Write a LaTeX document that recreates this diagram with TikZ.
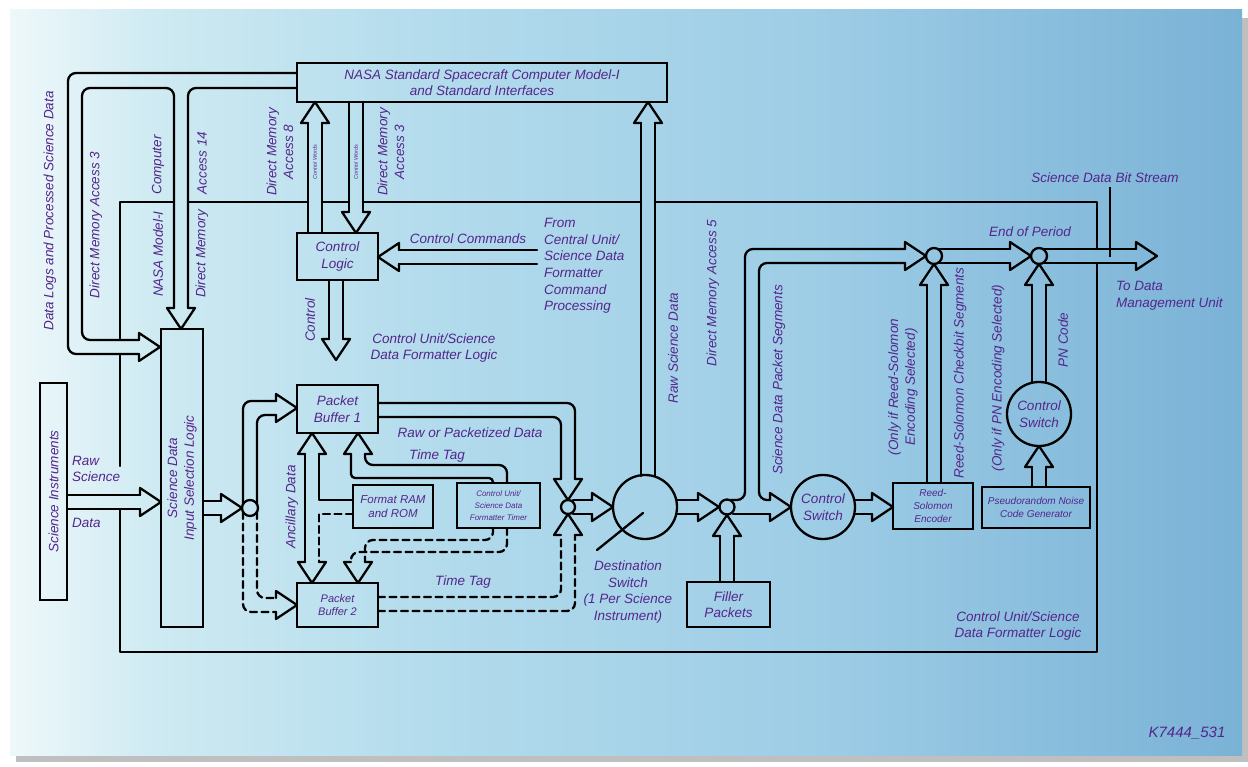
\documentclass[tikz,border=0pt]{standalone}
\usepackage{fontspec}
\setmainfont{Liberation Sans}
\definecolor{txt}{RGB}{84,38,140}
\definecolor{bgA}{RGB}{238,248,250}
\definecolor{bgB}{RGB}{206,234,242}
\definecolor{bgC}{RGB}{178,219,236}
\definecolor{bgD}{RGB}{158,205,230}
\definecolor{bgE}{RGB}{122,178,214}
\pgfdeclarehorizontalshading{panelshade}{100bp}{color(0bp)=(bgA); color(25bp)=(bgA); color(31bp)=(bgB); color(42.5bp)=(bgC); color(57.5bp)=(bgD); color(75bp)=(bgE); color(100bp)=(bgE)}
\def\HL{21}\def\HW{14}\def\SW{7}
\newcommand\ahR[3][]{\draw[ln,#1] ({#2-\HL},{#3-\SW}) -- ({#2-\HL},{#3-\HW}) -- (#2,#3) -- ({#2-\HL},{#3+\HW}) -- ({#2-\HL},{#3+\SW});}
\newcommand\ahL[3][]{\draw[ln,#1] ({#2+\HL},{#3-\SW}) -- ({#2+\HL},{#3-\HW}) -- (#2,#3) -- ({#2+\HL},{#3+\HW}) -- ({#2+\HL},{#3+\SW});}
\newcommand\ahU[3][]{\draw[ln,#1] ({#2-\SW},{#3+\HL}) -- ({#2-\HW},{#3+\HL}) -- (#2,#3) -- ({#2+\HW},{#3+\HL}) -- ({#2+\SW},{#3+\HL});}
\newcommand\ahD[3][]{\draw[ln,#1] ({#2-\SW},{#3-\HL}) -- ({#2-\HW},{#3-\HL}) -- (#2,#3) -- ({#2+\HW},{#3-\HL}) -- ({#2+\SW},{#3-\HL});}
\begin{document}
\begin{tikzpicture}[x=1pt,y=-1pt,
 ln/.style={line width=2.3pt, line cap=round, line join=round},
 rc/.style={rounded corners=8pt},
 dsh/.style={dash pattern=on 7pt off 4.5pt},
 lab/.style={text=txt, font=\fontsize{13.5}{16.7}\selectfont\itshape, inner sep=0pt, align=center},
 tinylab/.style={text=txt, font=\fontsize{5.5}{6.5}\selectfont\itshape, inner sep=0pt},
 box/.style={draw, line width=2.3pt, inner sep=0pt, align=center, text=txt, font=\fontsize{13.5}{16.5}\selectfont\itshape},
 rnd/.style={draw, line width=2.3pt, circle, inner sep=0pt, align=center, text=txt, font=\fontsize{13.5}{16.5}\selectfont\itshape}]

\useasboundingbox (0,0) rectangle (1248,767);
\fill[white] (0,0) rectangle (1248,767);
\fill[black!25] (16,18) rectangle (1248,762);
\shade[shading=panelshade] (10,10) rectangle (1242,755);

% frame of the formatter logic
\draw[ln] (174,202) -- (120,202) -- (120,340);
\draw[ln] (120,354) -- (120,466);
\draw[ln] (120,509) -- (120,652) -- (1097,652) -- (1097,263);
\draw[ln] (1097,249) -- (1097,202) -- (655,202);
\draw[ln] (641,202) -- (363,202);
\draw[ln] (349,202) -- (322,202);
\draw[ln] (308,202) -- (188,202);

% boxes
\node[box, minimum width=370pt, minimum height=39pt] (nasa) at (482,82.5) {NASA Standard Spacecraft Computer Model-I\\and Standard Interfaces};
\node[box, minimum width=81pt, minimum height=47pt] (ctl) at (337.5,256.5) {Control\\Logic};
\node[box, minimum width=42pt, minimum height=298pt] (isl) at (182,478) {};
\node[lab, rotate=90] (isltxt) at (isl.center) {Science Data\\Input Selection Logic};
\node[box, minimum width=27pt, minimum height=217pt] (si) at (53.5,491.5) {};
\node[lab, rotate=90] (sitxt) at (si.center) {Science Instruments};
\node[box, minimum width=81pt, minimum height=48pt] (pb1) at (337.5,409) {Packet\\Buffer 1};
\node[box, minimum width=81pt, minimum height=44pt, font=\fontsize{11}{13}\selectfont\itshape] (pb2) at (337.5,605) {Packet\\Buffer 2};
\node[box, minimum width=80pt, minimum height=43pt, font=\fontsize{11.5}{14}\selectfont\itshape] (fram) at (393,506.5) {Format RAM\\and ROM};
\node[box, minimum width=83pt, minimum height=45pt, font=\fontsize{8}{12}\selectfont\itshape] (tmr) at (498.5,505.5) {Control Unit/\\Science Data\\Formatter Timer};
\node[box, minimum width=83pt, minimum height=45pt] (fill) at (728.5,604.5) {Filler\\Packets};
\node[box, minimum width=80pt, minimum height=46pt, font=\fontsize{10}{13}\selectfont\itshape] (rs) at (933,506) {Reed-\\Solomon\\Encoder};
\node[box, minimum width=108pt, minimum height=41pt, font=\fontsize{10}{12.5}\selectfont\itshape] (pn) at (1036,507.5) {Pseudorandom Noise\\Code Generator};

% circles
\node[rnd, minimum size=16pt] (c1) at (250,508) {};
\node[rnd, minimum size=14pt] (c2) at (568,507) {};
\node[rnd, minimum size=64pt] (ds) at (645,507) {};
\node[rnd, minimum size=15pt] (c3) at (727,507) {};
\node[rnd, minimum size=64pt] (cs1) at (823,507) {Control\\Switch};
\node[rnd, minimum size=16pt] (c4) at (934,256) {};
\node[rnd, minimum size=16pt] (c6) at (1039,256) {};
\node[rnd, minimum size=64pt] (cs2) at (1039,414) {Control\\Switch};
\coordinate (dsl) at (597,550);
\coordinate (dsr) at (643,513);
\draw[ln] (dsl) -- (dsr);

% 1 data logs / DMA 14
\draw[ln,rc] (nasa.west |- 0,73) -- (68,73) -- (68,354) -- (139,354);
\draw[ln,rc] (139,340) -- (82,340) -- (82,88) -- (174,88) -- (174,308);
\draw[ln,rc] (188,308) -- (188,88) -- (nasa.west |- 0,88);
\ahR{160}{347}
\ahD{181}{329}
% 2 DMA8 up
\draw[ln] (308,233) -- (308,123);
\draw[ln] (322,233) -- (322,123);
\ahU{315}{102}
% 3 DMA3 down
\draw[ln] (349,102) -- (349,212);
\draw[ln] (363,102) -- (363,212);
\ahD{356}{233}
% 4 control commands
\draw[ln] (399,250) -- (537,250);
\draw[ln] (399,264) -- (537,264);
\ahL{378}{257}
% 5 control down
\draw[ln] (329,280) -- (329,339);
\draw[ln] (343,280) -- (343,339);
\ahD{336}{360}
% 6 raw science
\draw[ln] (67,495) -- (140,495);
\draw[ln] (67,509) -- (140,509);
\ahR{161}{502}
% 7 isl -> c1
\draw[ln] (203,501) -- (221,501);
\draw[ln] (203,515) -- (221,515);
\ahR{242}{508}
% 8 c1 -> pb1
\draw[ln,rc] (243,504) -- (243,401) -- (276,401);
\draw[ln,rc] (257,504) -- (257,415) -- (276,415);
\ahR{297}{408}
% 9 c1 -> pb2
\draw[ln,rc,dsh] (243,512) -- (243,612) -- (276,612);
\draw[ln,rc,dsh] (257,512) -- (257,598) -- (276,598);
\ahR{297}{605}
% 10 ancillary
\draw[ln] (305,454) -- (305,562);
\draw[ln] (319,454) -- (319,500) -- (353,500);
\draw[ln,dsh] (353,514) -- (319,514) -- (319,562);
\ahU{312}{433}
\ahD{312}{583}
% 11 timer -> pb1
\draw[ln,rc] (507,483) -- (507,465) -- (365,465) -- (365,454);
\draw[ln,rounded corners=4pt] (493,483) -- (493,478) -- (351,478) -- (351,454);
\ahU{358}{433}
% 12 timer -> pb2
\draw[ln,rc,dsh] (507,528) -- (507,552) -- (351,552) -- (351,562);
\draw[ln,rc,dsh] (493,528) -- (493,540) -- (365,540) -- (365,562);
\ahD{358}{583}
% 13 pb1 -> c2
\draw[ln,rc] (378,403) -- (575,403) -- (575,479);
\draw[ln,rc] (378,417) -- (561,417) -- (561,479);
\ahD{568}{500}
% 14 pb2 -> c2
\draw[ln,rc,dsh] (378,597) -- (561,597) -- (561,535);
\draw[ln,rc,dsh] (378,611) -- (575,611) -- (575,535);
\ahU{568}{514}
% 15 c2 -> ds
\draw[ln] (573,500) -- (592,500);
\draw[ln] (573,514) -- (592,514);
\ahR{613}{507}
% 16 ds -> nasa
\draw[ln] (641,476) -- (641,123);
\draw[ln] (655,476) -- (655,123);
\ahU{648}{102}
% 17 ds -> c3
\draw[ln] (676,500) -- (698,500);
\draw[ln] (676,514) -- (698,514);
\ahR{719}{507}
% 18 filler -> c3
\draw[ln] (720,582) -- (720,536);
\draw[ln] (734,582) -- (734,536);
\ahU{727}{515}
% 19 c3 loop and to cs1
\draw[ln,rc] (731,500) -- (745,500) -- (745,249) -- (905,249);
\draw[ln,rc] (905,263) -- (759,263) -- (759,500) -- (770,500);
\draw[ln] (733,514) -- (770,514);
\ahR{791}{507}
\ahR{926}{256}
% 20 cs1 -> rs
\draw[ln] (855,500) -- (872,500);
\draw[ln] (855,514) -- (872,514);
\ahR{893}{507}
% 21 rs -> c4
\draw[ln] (927,483) -- (927,285);
\draw[ln] (941,483) -- (941,285);
\ahU{934}{264}
% 22 c4 -> c6
\draw[ln] (939,249) -- (1010,249);
\draw[ln] (939,263) -- (1010,263);
\ahR{1031}{256}
% 23 c6 -> out
\draw[ln] (1044,249) -- (1136,249);
\draw[ln] (1044,263) -- (1136,263);
\ahR{1157}{256}
% 24 cs2 -> c6
\draw[ln] (1032,383) -- (1032,285);
\draw[ln] (1046,383) -- (1046,285);
\ahU{1039}{264}
% 25 pn -> cs2
\draw[ln] (1032,487) -- (1032,467);
\draw[ln] (1046,487) -- (1046,467);
\ahU{1039}{446}

% labels
\node[lab, rotate=90] (l1) at (50,211) {Data Logs and Processed Science Data};
\node[lab, rotate=90] (l2) at (96,225) {Direct Memory Access 3};
\node[lab, rotate=90] (l3) at (158,254) {NASA Model-I};
\node[lab, rotate=90] (l4) at (158,165) {Computer};
\node[lab, rotate=90] (l5) at (202,254) {Direct Memory};
\node[lab, rotate=90] (l6) at (202,163) {Access 14};
\node[lab, rotate=90] (l7) at (280,152) {Direct Memory\\Access 8};
\node[lab, rotate=90] (l8) at (391,152) {Direct Memory\\Access 3};
\node[tinylab, rotate=90] (l9) at (315,162) {Control Words};
\node[tinylab, rotate=90] (l10) at (356,162) {Control Words};
\node[lab] (l11) at (468,239) {Control Commands};
\node[lab, align=left, anchor=north west] (l12) at (544,218) {From\\Central Unit/\\Science Data\\Formatter\\Command\\Processing};
\node[lab, rotate=90] (l13) at (310,320) {Control};
\node[lab] (l14) at (434,348) {Control Unit/Science\\Data Formatter Logic};
\node[lab, rotate=90] (l15) at (673,348) {Raw Science Data};
\node[lab, rotate=90] (l16) at (713,293) {Direct Memory Access 5};
\node[lab, rotate=90] (l17) at (779,380) {Science Data Packet Segments};
\node[lab, rotate=90] (l18) at (903,387) {(Only if Reed-Solomon\\Encoding Selected)};
\node[lab, rotate=90] (l19) at (960,373) {Reed-Solomon Checkbit Segments};
\node[lab, rotate=90] (l20) at (998,378) {(Only if PN Encoding Selected)};
\node[lab, rotate=90] (l21) at (1063,340) {PN Code};
\node[lab] (l22) at (1030,232) {End of Period};
\node[lab] (sdbs) at (1105,178) {Science Data Bit Stream};
\coordinate (bs) at (1110,257);
\draw[line width=1.6pt] (sdbs.south) ++(5,4) -- (bs);
\node[lab, align=left, anchor=north west] (l23) at (1116,281) {To Data\\Management Unit};
\node[lab, align=left, anchor=west] (l24) at (72,469) {Raw\\Science};
\node[lab, anchor=west] (l25) at (72,523) {Data};
\node[lab] (l26) at (470,433) {Raw or Packetized Data};
\node[lab] (l27) at (437,456) {Time Tag};
\node[lab] (l28) at (463,582) {Time Tag};
\node[lab, rotate=90] (l29) at (292,507) {Ancillary Data};
\node[lab] (l30) at (628,592) {Destination\\Switch\\(1 Per Science\\Instrument)};
\node[lab] (l31) at (1018,626) {Control Unit/Science\\Data Formatter Logic};
\node[lab, font=\fontsize{15}{18}\selectfont\itshape] (l32) at (1187,733) {K7444\_531};
\end{tikzpicture}
\end{document}
